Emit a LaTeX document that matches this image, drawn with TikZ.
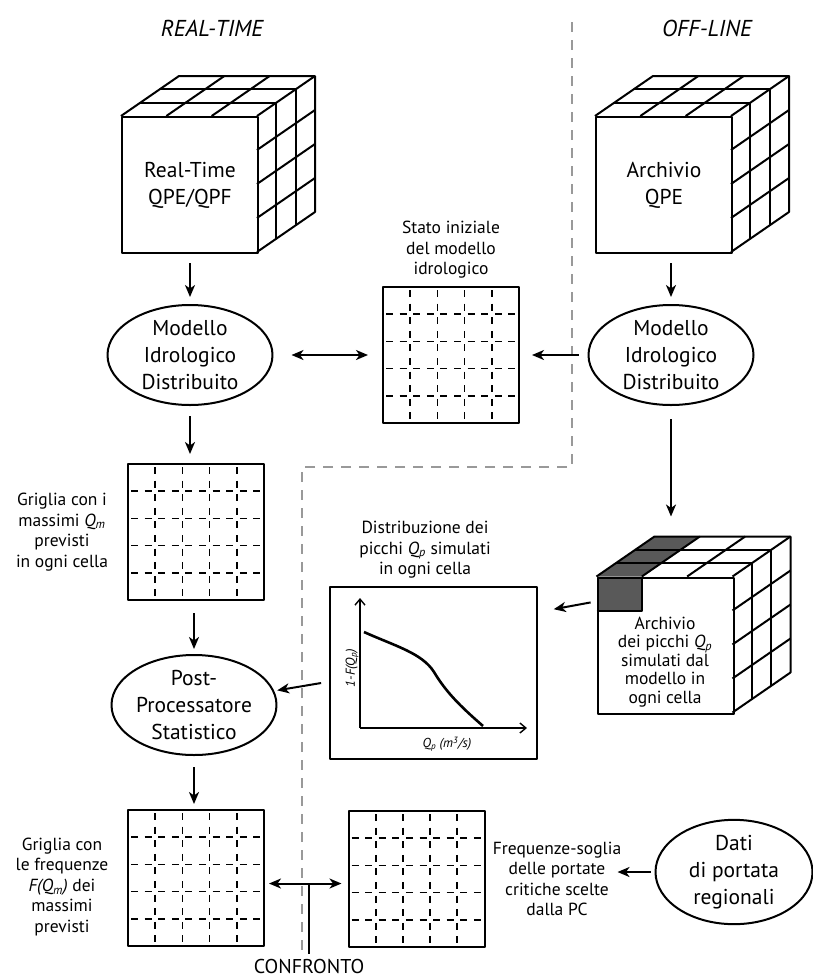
\documentclass[tikz,border=0pt]{standalone}
\usepackage{fontspec}
\setmainfont{PT Sans}
\usepackage{tikz}
\usetikzlibrary{shapes.geometric, arrows.meta, calc, backgrounds}

\begin{document}
\begin{tikzpicture}[x=1pt, y=-1pt, line width=2pt, line join=round,
    >={Stealth[length=12pt, width=10pt, inset=3.5pt]},
    big text/.style={font=\fontsize{21.5}{27}\selectfont, align=center},
    small text/.style={font=\fontsize{17.5}{20.5}\selectfont, align=center},
    title/.style={font=\fontsize{23}{27}\selectfont\itshape},
    axis label/.style={font=\fontsize{13}{15}\selectfont\itshape},
    model/.style={ellipse, draw, big text, inner sep=0pt, minimum width=165pt, minimum height=100pt},
    cube front/.style={draw, big text, minimum size=136pt, inner sep=0pt},
    cell dash/.style={line width=1.7pt, dash pattern=on 7pt off 6.6pt, dash phase=10.6pt},
    grid box/.style={draw, minimum size=136pt, inner sep=0pt, path picture={
        \foreach \k in {1,...,4} {
          \draw[cell dash] ($(path picture bounding box.north west)+(27.2*\k,0)$) -- ++(0,136);
          \draw[cell dash] ($(path picture bounding box.north west)+(0,27.2*\k)$) -- ++(136,0);
        }}},
    flow/.style={->, shorten <=9pt, shorten >=7pt},
    axis/.style={line width=1.4pt, -{Straight Barb[length=6pt, width=10pt]}},
    divider/.style={black!40, line width=2.6pt, dash pattern=on 10pt off 8pt},
    pics/cube sides/.style={code={
        \draw (0,0) -- (58,-40) -- (194,-40) -- (194,96) -- (136,136);
        \draw (136,0) -- (194,-40);
        \foreach \j in {1,2} {
          \draw ({\j*58/3},{-\j*40/3}) -- ++(136,0) -- ++(0,136);
          \draw ({\j*136/3},0) -- ++(58,-40);
        }
        \foreach \k in {1,2,3}
          \draw (136,{\k*34}) -- ++(58,-40);
      }}]
    \useasboundingbox (0,0) rectangle (813,978);

    % real-time / off-line separation
    \draw[divider] (572,22) -- (572,467) -- (302,467) -- (302,955);

    \node[title] (rttitle) at (212,28) {REAL-TIME};
    \node[title] (offtitle) at (707,28) {OFF-LINE};

    % rainfall cubes
    \node[cube front] (rtqpe) at (190,185) {Real-Time\\QPE/QPF};
    \pic at (rtqpe.north west) {cube sides};
    \node[cube front] (arqpe) at (664,185) {Archivio\\QPE};
    \pic at (arqpe.north west) {cube sides};

    \node[model] (modrt) at (190,355) {Modello\\Idrologico\\Distribuito};
    \node[model] (modoff) at (671,355) {Modello\\Idrologico\\Distribuito};

    \node[grid box] (stato) at (451,355) {};
    \node[small text, anchor=south] (statolbl) at (451,283) {Stato iniziale\\del modello\\idrologico};

    \node[grid box] (massimi) at (196,532) {};
    \node[small text] (massimilbl) at (62,532) {Griglia con i\\massimi \textit{Q\textsubscript{m}}\\previsti\\in ogni cella};

    \node[model] (post) at (194,705) {Post-\\Processatore\\Statistico};

    \node[grid box] (freq) at (196,878) {};
    \node[small text] (freqlbl) at (62,887) {Griglia con\\le frequenze\\\textit{F(Q\textsubscript{m})} dei\\massimi\\previsti};
    \node[grid box] (soglia) at (416.5,879) {};
    \node[small text] (soglialbl) at (557,879) {Frequenze-soglia\\delle portate\\critiche scelte\\dalla PC};
    \node[model, minimum width=157pt, minimum height=99pt] (dati) at (734,872) {Dati\\di portata\\regionali};
    \node[font=\fontsize{20}{24}\selectfont] (confronto) at (309,966) {CONFRONTO};

    % archive of simulated peaks
    \node[cube front] (picchi) at (665.5,645.5) {};
    \pic at (picchi.north west) {cube sides};
    \begin{scope}[on background layer]
      \fill[black!65] (picchi.north west) rectangle ++(45.3,34);
      \fill[black!65] (picchi.north west) -- ++(45.3,0) -- ++(58,-40) -- ++(-45.3,0) -- cycle;
    \end{scope}
    \draw (picchi.north west) ++(0,34) -| ++(45.3,-34);
    \node[small text, font=\fontsize{17.5}{18.5}\selectfont] (picchilbl) at (665,662) {Archivio\\dei picchi \textit{Q\textsubscript{p}}\\simulati dal\\modello in\\ogni cella};

    % distribution plot
    \node[draw, minimum width=207pt, minimum height=172pt, inner sep=0pt] (distr) at (433.5,673) {};
    \node[small text] (distrlbl) at (425,550) {Distribuzione dei\\picchi \textit{Q\textsubscript{p}} simulati\\in ogni cella};
    \coordinate (orig) at ($(distr.south west)+(31,-32)$);
    \draw[axis] (orig) -- ++(0,-130);
    \draw[axis] (orig) -- ++(167,0);
    \begin{scope}[shift={(orig)}]
      \draw[line width=2.6pt] (4,-96) .. controls (35,-82) and (62,-75) .. (74,-56)
                              .. controls (86,-36) and (100,-22) .. (123,-2);
    \end{scope}
    \node[axis label, rotate=90] (ylbl) at (352,668) {1-F(Q\textsubscript{p})};
    \node[axis label] (xlbl) at (447,744) {Q\textsubscript{p} (m\textsuperscript{3}/s)};

    % connections
    \draw[flow] (rtqpe.south) -- (modrt.north);
    \draw[flow] (arqpe.south -| modoff) -- (modoff.north);
    \draw[<->, shorten <=18pt, shorten >=14pt] (modrt.east) -- (stato.west);
    \draw[->, shorten <=9pt, shorten >=12pt] (modoff.west) -- (stato.east);
    \draw[->, shorten <=10pt, shorten >=9pt] (modrt.south) -- (modrt.south |- massimi.north);
    \draw[->, shorten <=12pt, shorten >=5pt] (massimi.south -| post) -- (post.north);
    \draw[->, shorten <=11pt, shorten >=5pt] (post.south) -- (post.south |- freq.north);
    \draw[->, shorten <=13pt, shorten >=60pt] (modoff.south) -- (modoff.south |- picchi.north);
    \draw[->, shorten <=6pt, shorten >=16pt] ($(picchi.north west)!0.18!(picchi.south west)$) -- ($(distr.north east)!0.15!(distr.south east)$);
    \draw[->, shorten <=8pt, shorten >=3pt] ($(distr.north west)!0.55!(distr.south west)$) -- (post.10);
    \draw[->, shorten <=4pt, shorten >=-8pt] (dati.west) -- (dati.west -| soglialbl.east);

    \coordinate (cmpl) at ($(freq.north east)!0.54!(freq.south east)$);
    \draw[<->, shorten <=4pt, shorten >=6pt] (cmpl) -- (cmpl -| soglia.west);
    \coordinate (cmpmid) at ($(cmpl)!0.53!(cmpl -| soglia.west)$);
    \draw (cmpmid) -- (cmpmid |- confronto.north);
\end{tikzpicture}
\end{document}
